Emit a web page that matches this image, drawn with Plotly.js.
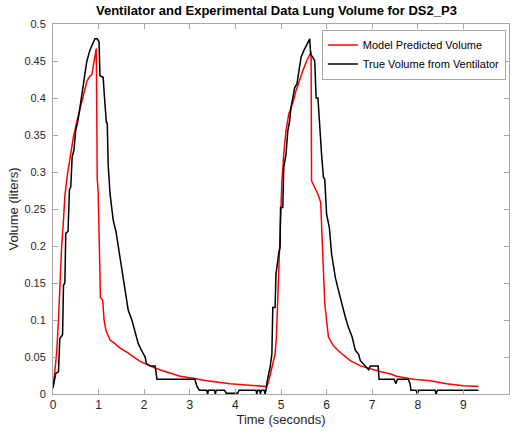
<!DOCTYPE html>
<html>
<head>
<meta charset="utf-8">
<script src="https://cdn.plot.ly/plotly-3.0.1.min.js"></script>
<style>html,body{margin:0;padding:0;background:#fff;}#chart{width:515px;height:440px;}</style>
</head>
<body>
<div id="chart"></div>
<script>
// Model predicted volume (red)
const modelTime = [0.00,0.08,0.12,0.15,0.19,0.23,0.26,0.31,0.37,0.45,0.53,0.63,0.74,0.80,0.85,0.88,0.95,0.97,0.99,1.02,1.04,1.09,1.12,1.16,1.25,1.36,1.47,1.61,1.76,1.91,2.13,2.20,2.42,2.64,2.79,3.00,3.15,3.37,3.51,3.74,3.88,4.10,4.25,4.39,4.61,4.69,
  4.74,4.81,4.87,4.90,4.94,4.98,5.02,5.06,5.11,5.17,5.22,5.27,5.33,5.41,5.48,5.56,5.63,5.66,5.67,5.74,5.81,5.87,5.91,5.96,6.04,6.15,6.30,6.52,6.74,6.96,7.19,7.41,7.53,7.90,8.27,8.63,9.00,9.33];
const modelVolume = [0.008,0.055,0.100,0.154,0.200,0.235,0.267,0.294,0.320,0.348,0.370,0.393,0.422,0.429,0.431,0.442,0.467,0.290,0.275,0.190,0.130,0.127,0.100,0.086,0.073,0.068,0.062,0.057,0.050,0.044,0.038,0.036,0.031,0.027,0.024,0.022,0.020,0.018,0.017,0.015,0.014,0.013,0.012,0.011,0.010,0.010,
  0.020,0.040,0.054,0.077,0.144,0.212,0.288,0.324,0.356,0.378,0.387,0.396,0.410,0.426,0.437,0.450,0.459,0.462,0.288,0.279,0.270,0.259,0.189,0.122,0.077,0.065,0.056,0.045,0.038,0.034,0.030,0.027,0.024,0.020,0.018,0.014,0.011,0.010];

// True volume from ventilator (black, quantized steps)
const trueTime = [0.00,0.06,0.12,0.15,0.21,0.23,0.26,0.28,0.33,0.36,0.39,0.42,0.46,0.50,0.55,0.62,0.70,0.74,0.81,0.88,0.92,0.97,1.01,1.03,1.10,1.13,1.17,1.19,1.21,1.25,1.32,1.38,1.43,1.47,1.51,1.58,1.65,1.73,1.80,1.87,1.94,2.02,2.05,2.13,2.24,2.28,3.11,3.16,3.21,
  3.37,3.39,3.41,3.54,3.56,3.58,3.76,3.80,4.05,4.08,4.45,4.47,4.49,4.53,4.55,4.57,4.63,4.65,4.67,
  4.70,4.76,4.80,4.82,4.87,4.89,4.95,4.98,4.99,5.04,5.06,5.11,5.15,5.19,5.22,5.30,5.35,5.39,5.44,5.50,5.56,5.63,5.65,5.70,5.74,5.77,5.81,5.84,5.89,5.93,5.96,6.00,6.06,6.11,6.19,6.26,6.33,6.41,6.48,6.56,6.63,6.70,6.74,6.80,6.88,6.92,6.96,7.13,7.15,7.48,7.52,7.55,7.79,7.83,7.85,7.96,7.99,8.02,8.38,8.40,8.43,9.33];
const trueVolume = [0.008,0.028,0.030,0.075,0.080,0.147,0.150,0.217,0.220,0.276,0.280,0.320,0.330,0.357,0.370,0.397,0.429,0.449,0.465,0.475,0.480,0.480,0.476,0.430,0.428,0.400,0.367,0.366,0.310,0.271,0.235,0.220,0.200,0.180,0.163,0.136,0.113,0.100,0.082,0.068,0.059,0.050,0.041,0.038,0.038,0.020,0.020,0.010,0.005,
  0.005,0.000,0.005,0.005,0.000,0.005,0.005,0.001,0.001,0.005,0.005,0.000,0.005,0.005,0.000,0.005,0.005,0.000,0.005,
  0.018,0.036,0.054,0.117,0.117,0.162,0.190,0.198,0.252,0.252,0.306,0.324,0.356,0.369,0.387,0.414,0.419,0.437,0.455,0.464,0.471,0.480,0.459,0.455,0.450,0.400,0.400,0.369,0.324,0.293,0.290,0.243,0.225,0.189,0.158,0.140,0.122,0.104,0.090,0.077,0.059,0.054,0.045,0.041,0.035,0.033,0.038,0.038,0.020,0.020,0.014,0.020,0.020,0.014,0.005,0.005,0.000,0.005,0.005,0.000,0.005,0.005];

const xTicks = [0,1,2,3,4,5,6,7,8,9,10];
const yTicks = [0,0.05,0.1,0.15,0.2,0.25,0.3,0.35,0.4,0.45,0.5];
const yTickText = ['0','0.05','0.1','0.15','0.2','0.25','0.3','0.35','0.4','0.45','0.5'];

const font = 'Liberation Sans, Arial, Helvetica, sans-serif';
const traces = [
  {x: modelTime, y: modelVolume, type: 'scatter', mode: 'lines', name: 'Model Predicted Volume',
   line: {color: '#ff0000', width: 1.5}},
  {x: trueTime, y: trueVolume, type: 'scatter', mode: 'lines', name: 'True Volume from Ventilator',
   line: {color: '#000000', width: 1.5}}
];
const axisCommon = {
  showline: true, mirror: 'ticks', linecolor: '#a6a6a6', linewidth: 1,
  ticks: 'inside', ticklen: 5, tickcolor: '#a6a6a6', showgrid: false, zeroline: false
};
const layout = {
  width: 515, height: 440,
  margin: {l: 53, r: 6, t: 24, b: 46},
  paper_bgcolor: '#ffffff', plot_bgcolor: '#ffffff',
  title: {text: '<b>Ventilator and Experimental Data Lung Volume for DS2_P3</b>',
          font: {family: font, size: 13, color: '#000'}, x: 0.49, xref: 'paper', xanchor: 'center', y: 0.977, yanchor: 'middle'},
  xaxis: Object.assign({}, axisCommon, {range: [0, 10], tickvals: xTicks,
          tickfont: {family: font, size: 12, color: '#262626'},
          title: {text: 'Time (seconds)', font: {family: font, size: 13, color: '#262626'}, standoff: 3}}),
  yaxis: Object.assign({}, axisCommon, {range: [0, 0.5], tickvals: yTicks, ticktext: yTickText,
          tickfont: {family: font, size: 11, color: '#262626'}, ticklabelstandoff: 4,
          title: {text: 'Volume (liters)', font: {family: font, size: 13, color: '#262626'}, standoff: 2}}),
  showlegend: true,
  legend: {x: 0.993, xanchor: 'right', y: 0.985, yanchor: 'top', bgcolor: '#ffffff',
           bordercolor: '#a6a6a6', borderwidth: 1, font: {family: font, size: 11, color: '#000'},
           tracegroupgap: 0, itemwidth: 30}
};
Plotly.newPlot('chart', traces, layout, {displayModeBar: false, staticPlot: true});
</script>
</body>
</html>
